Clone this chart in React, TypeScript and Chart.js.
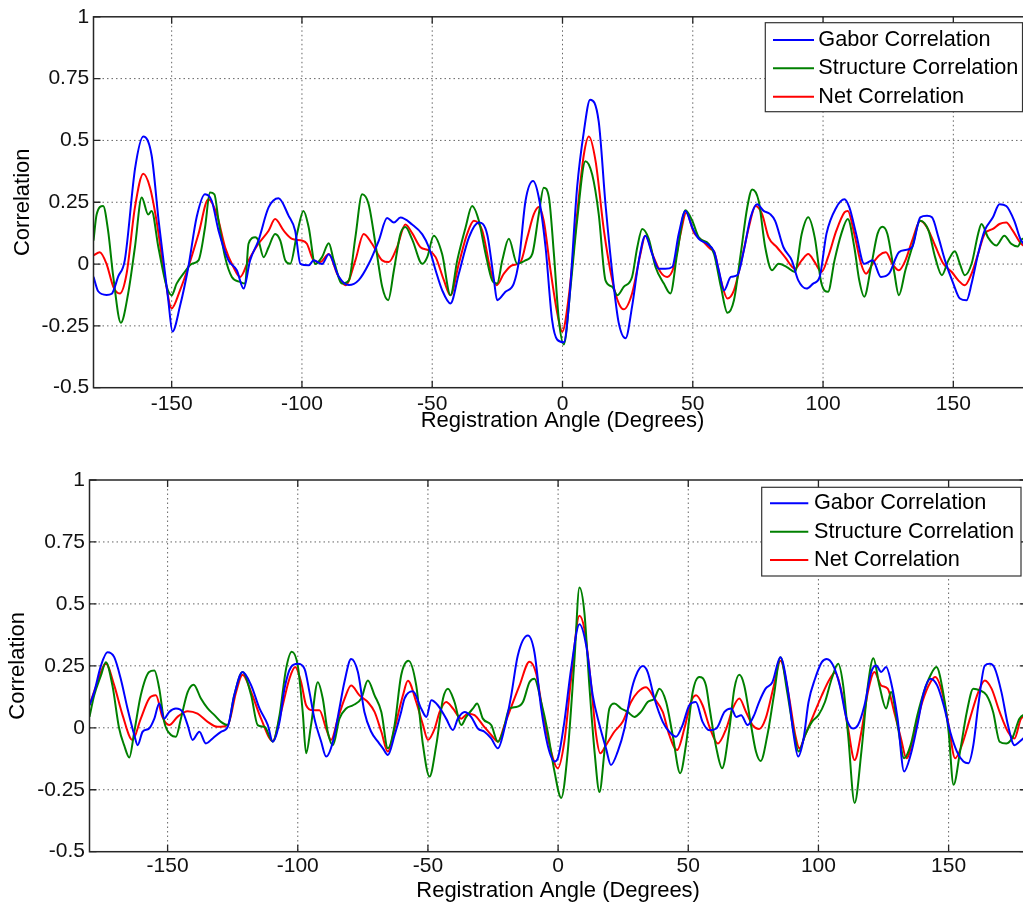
import React, { useEffect, useRef } from "react";
import { Chart, registerables } from "chart.js";

Chart.register(...registerables);

const FONT = '"Liberation Sans", Arial, Helvetica, sans-serif';

const xTickValues = [-150, -100, -50, 0, 50, 100, 150];
const yTickValues = [-0.5, -0.25, 0, 0.25, 0.5, 0.75, 1];
const seriesLabels = ["Gabor Correlation", "Structure Correlation", "Net Correlation"];
const seriesColors = ["#0000ff", "#008000", "#ff0000"];
const xAxisTitle = "Registration Angle (Degrees)";
const yAxisTitle = "Correlation";

// ---------- top panel ----------
const gaborTop: number[][] = [
  [-180, -0.052], [-178.2, -0.11], [-175, -0.125], [-173, -0.12], [-170.5, -0.05], [-168, 0.015], [-164, 0.39],
  [-160.9, 0.516], [-157.7, 0.44], [-155, 0.175], [-151.3, -0.146], [-149.7, -0.273], [-146.8, -0.17], [-143.6, -0.012],
  [-140.4, 0.19], [-137.2, 0.282], [-134.6, 0.255], [-132, 0.135], [-128.2, 0.015], [-125, -0.025], [-122.4, -0.099],
  [-119.9, 0.015], [-116.7, 0.095], [-112.8, 0.229], [-109, 0.266], [-105.1, 0.195], [-102.6, 0.135], [-100.6, 0.001],
  [-97.4, -0.005], [-95.5, 0.015], [-92.3, 0.0], [-89.7, 0.04], [-85.9, -0.05], [-82, -0.085], [-78.2, -0.065],
  [-74.4, 0.0], [-70.5, 0.095], [-67.3, 0.186], [-64.7, 0.168], [-62.2, 0.188], [-57.7, 0.16], [-53.8, 0.12],
  [-51.3, 0.068], [-48.7, -0.025], [-46.2, -0.105], [-43, -0.159], [-39.8, -0.039], [-35.9, 0.108], [-32.1, 0.168],
  [-28.9, 0.12], [-26.3, -0.065], [-25.1, -0.146], [-21.9, -0.112], [-18.7, -0.079], [-16.7, 0.015], [-14.2, 0.255],
  [-11.3, 0.336], [-9.1, 0.269], [-6.5, 0.068], [-4, -0.226], [-2, -0.306], [0.5, -0.316], [2.4, -0.172], [5.6, 0.309],
  [8.2, 0.536], [10.6, 0.665], [13.9, 0.576], [16.5, 0.242], [19.7, -0.092], [21.6, -0.239], [24.2, -0.3], [26.7, -0.172],
  [29.3, 0.015], [31.8, 0.115], [34.4, 0.041], [37, -0.019], [39.5, -0.019], [42.1, -0.012], [44.6, 0.122], [47.2, 0.215],
  [49.8, 0.148], [52.3, 0.102], [55.5, 0.082], [58.2, 0.05], [60.1, -0.03], [62, -0.106], [64.6, -0.052], [67.1, -0.045],
  [69.6, 0.055], [72.2, 0.189], [74.7, 0.242], [77.2, 0.215], [79.7, 0.202], [81.6, 0.175], [84.8, 0.068], [88, 0.015],
  [90.5, -0.066], [93.7, -0.099], [96.2, -0.079], [98.7, -0.052], [101.3, 0.122], [105.1, 0.229], [108.2, 0.262],
  [110.1, 0.229], [112.7, 0.122], [115.8, 0.001], [119, 0.015], [122.2, -0.052], [125.3, -0.039], [129.1, 0.048],
  [131.6, 0.057], [134.2, 0.068], [137.3, 0.189], [139.9, 0.195], [141.8, 0.189], [144.3, 0.108], [146.8, 0.015],
  [150, -0.079], [152.5, -0.139], [155.1, -0.146], [157, -0.079], [159.5, 0.041], [162, 0.135], [165.2, 0.189],
  [167.7, 0.242], [170.3, 0.235], [173.4, 0.175], [176, 0.095], [180, 0.06],
];

const structureTop: number[][] = [
  [-180, 0.095], [-178.8, 0.2], [-176.3, 0.235], [-174.4, 0.135], [-172.4, -0.052], [-169.5, -0.237], [-166.7, -0.119],
  [-164.1, 0.068], [-161.5, 0.269], [-159, 0.2], [-157.7, 0.215], [-155.1, 0.068], [-151.9, -0.092], [-150, -0.126],
  [-148.1, -0.079], [-145.5, -0.039], [-142.3, 0.001], [-139.7, 0.015], [-137.2, 0.148], [-135.3, 0.289], [-133.6, 0.282],
  [-132, 0.175], [-129.5, 0.028], [-126.9, -0.052], [-123.7, -0.072], [-121.8, -0.079], [-120.5, 0.082], [-117.9, 0.108],
  [-116.7, 0.095], [-114.7, 0.028], [-112.8, 0.068], [-110.3, 0.122], [-108.3, 0.095], [-106.4, 0.015], [-104.5, 0.001],
  [-101.9, 0.122], [-99.4, 0.215], [-97.4, 0.148], [-94.9, 0.0], [-92.3, 0.028], [-89.7, 0.084], [-87.8, 0.015],
  [-84.6, -0.079], [-82, -0.066], [-79.5, 0.108], [-76.9, 0.282], [-74.4, 0.242], [-71.8, 0.082], [-69.2, -0.092],
  [-66.9, -0.146], [-64.7, -0.025], [-62.2, 0.122], [-60.3, 0.15], [-57.7, 0.1], [-53.8, 0.001], [-51.9, 0.028],
  [-49.4, 0.115], [-46.2, 0.041], [-43, -0.126], [-40.4, 0.015], [-37.2, 0.148], [-34.7, 0.235], [-32.1, 0.175],
  [-29.5, 0.041], [-27, -0.066], [-25.1, -0.079], [-23.1, 0.015], [-20.6, 0.102], [-17.4, 0.001], [-14.2, 0.015],
  [-11.6, 0.041], [-9.1, 0.202], [-7.2, 0.309], [-5.2, 0.269], [-3.3, 0.041], [-1.4, -0.226], [0.5, -0.325],
  [3.1, -0.092], [5.6, 0.175], [8.8, 0.416], [11.4, 0.362], [13.9, 0.202], [16.5, -0.066], [19.1, -0.092], [21, -0.126],
  [23.5, -0.092], [26.7, -0.052], [28.7, 0.068], [30.6, 0.142], [33.1, 0.102], [35.7, -0.012], [38.9, -0.079],
  [41.4, -0.119], [44, 0.041], [47.2, 0.218], [49.8, 0.175], [52.3, 0.108], [56.1, 0.082], [58.2, 0.04], [60.8, -0.092],
  [63.3, -0.197], [65.8, -0.146], [68.4, 0.041], [70.9, 0.229], [72.8, 0.302], [75.3, 0.255], [77.8, 0.068],
  [80.4, -0.025], [82.9, 0.001], [86.1, -0.012], [89.2, -0.032], [91.8, 0.122], [94.3, 0.189], [96.8, 0.108],
  [99.4, -0.079], [101.9, -0.112], [104.4, 0.015], [107, 0.122], [109.5, 0.182], [112, 0.068], [113.9, -0.066],
  [115.8, -0.132], [118.4, -0.012], [120.9, 0.122], [122.8, 0.151], [124.7, 0.122], [127.2, -0.025], [129.1, -0.126],
  [131.6, -0.025], [134.2, 0.068], [137.3, 0.175], [140.5, 0.135], [143, 0.028], [145.6, -0.045], [148.1, 0.015],
  [150.6, 0.052], [152.5, 0.001], [154.4, -0.045], [157, 0.001], [159.5, 0.122], [160.8, 0.162], [163.3, 0.108],
  [166.5, 0.075], [169.6, 0.115], [172.2, 0.082], [174.7, 0.071], [176.6, 0.102], [180, 0.07],
];

const netTop: number[][] = [
  [-180, 0.035], [-177.6, 0.048], [-175, 0.001], [-172.4, -0.092], [-169.9, -0.119], [-167.3, -0.039], [-164.1, 0.229],
  [-160.9, 0.365], [-158.3, 0.309], [-155.8, 0.175], [-152.6, -0.052], [-150, -0.179], [-146.8, -0.106], [-143.6, -0.012],
  [-139.7, 0.122], [-135.9, 0.262], [-132.7, 0.202], [-129.5, 0.068], [-126.3, -0.012], [-123.7, -0.052], [-120.5, 0.015],
  [-116.7, 0.082], [-112.8, 0.135], [-110.3, 0.182], [-107, 0.135], [-103.8, 0.102], [-100, 0.095], [-98.1, 0.082],
  [-95.5, 0.015], [-93, 0.008], [-89.7, 0.041], [-86.5, -0.039], [-83.3, -0.086], [-79.5, 0.015], [-76.3, 0.122],
  [-73.1, 0.082], [-69.2, 0.015], [-66.7, 0.008], [-63.5, 0.068], [-60.3, 0.16], [-57.7, 0.125], [-54.5, 0.068],
  [-51.3, 0.055], [-48.7, 0.028], [-45.5, -0.066], [-43, -0.126], [-39.8, 0.001], [-36.6, 0.122], [-34, 0.175],
  [-30.8, 0.135], [-27.6, -0.025], [-25.3, -0.086], [-22.5, -0.039], [-19.3, -0.005], [-16.1, 0.008], [-13.5, 0.108],
  [-11, 0.202], [-9.1, 0.231], [-7.2, 0.175], [-4.6, -0.025], [-2, -0.199], [-0.1, -0.273], [2.4, -0.132], [5.6, 0.202],
  [8.2, 0.443], [10.1, 0.516], [12.7, 0.416], [15.9, 0.135], [19.1, -0.066], [21.6, -0.159], [23.5, -0.183],
  [26.7, -0.119], [29.9, 0.041], [31.8, 0.115], [35, 0.028], [37.6, -0.032], [40.2, -0.052], [42.7, -0.012],
  [45.3, 0.122], [47.5, 0.209], [50.4, 0.128], [53.6, 0.095], [56.8, 0.061], [58.2, 0.05], [60.8, -0.066],
  [63.3, -0.139], [65.8, -0.106], [68.4, 0.001], [71.5, 0.148], [74.1, 0.235], [76.6, 0.202], [79.1, 0.108],
  [82.3, 0.068], [85.4, 0.028], [89.2, -0.019], [91.8, 0.015], [94.3, 0.041], [96.8, 0.008], [99.4, -0.032],
  [101.9, 0.028], [105.1, 0.135], [108.2, 0.209], [109.5, 0.215], [112, 0.122], [114.6, 0.001], [116.5, -0.039],
  [119, 0.001], [121.5, 0.035], [124.1, 0.048], [126.6, 0.001], [129.1, -0.025], [131.6, 0.015], [134.2, 0.095],
  [137.3, 0.175], [139.9, 0.148], [143, 0.075], [146.2, 0.001], [149.4, -0.032], [151.9, -0.066], [154.4, -0.086],
  [157, -0.039], [159.5, 0.041], [162, 0.122], [165.2, 0.142], [167.7, 0.162], [170.3, 0.168], [172.8, 0.135],
  [176, 0.082], [180, 0.06],
];

// ---------- bottom panel ----------
const gaborBottom: number[][] = [
  [-180, 0.091], [-178.2, 0.144], [-175.6, 0.251], [-173.1, 0.305], [-170.5, 0.285], [-168, 0.198], [-165.4, 0.078],
  [-162.8, -0.029], [-161.5, -0.07], [-159.6, -0.016], [-157.1, -0.003], [-155.1, 0.037], [-153.2, 0.098],
  [-151.3, 0.037], [-149.4, 0.064], [-146.8, 0.078], [-144.2, 0.064], [-142.3, 0.011], [-140.4, -0.049],
  [-137.8, -0.016], [-135.3, -0.063], [-132.7, -0.043], [-129.5, -0.016], [-126.9, 0.004], [-124.4, 0.131],
  [-121.2, 0.225], [-117.9, 0.171], [-114.7, 0.078], [-111.5, 0.011], [-109.6, -0.056], [-107, 0.024], [-105.1, 0.158],
  [-102.6, 0.245], [-100, 0.258], [-97.4, 0.238], [-95.5, 0.144], [-93.6, 0.037], [-91, -0.056], [-89.1, -0.116],
  [-86.5, -0.056], [-84, 0.078], [-82.1, 0.184], [-79.5, 0.278], [-76.9, 0.225], [-74.4, 0.064], [-71.8, -0.016],
  [-69.2, -0.056], [-67.3, -0.083], [-65.4, -0.11], [-62.8, -0.029], [-60.3, 0.064], [-59, 0.118], [-55.8, 0.147],
  [-52.6, 0.078], [-50.6, 0.044], [-48.7, 0.111], [-46.2, 0.091], [-43, 0.037], [-40.4, -0.009], [-38.5, 0.037],
  [-35.9, 0.064], [-33.4, 0.044], [-30.8, -0.003], [-28.3, -0.016], [-25.7, -0.043], [-23.1, -0.083], [-20.6, -0.003],
  [-18, 0.131], [-15.5, 0.291], [-11.6, 0.372], [-9.1, 0.305], [-6.5, 0.078], [-4, -0.07], [-1.4, -0.136],
  [-0.1, -0.123], [2.4, 0.024], [5, 0.238], [8.2, 0.418], [10.8, 0.332], [13.3, 0.131], [15.9, 0.011], [18.4, -0.083],
  [20.3, -0.15], [22.9, -0.096], [25.5, -0.003], [28, 0.144], [29.9, 0.211], [32.5, 0.249], [34.4, 0.225], [37, 0.118],
  [40.2, 0.024], [42.7, -0.016], [45.3, -0.036], [47.8, 0.011], [50.4, 0.091], [52.9, 0.104], [55.5, 0.024],
  [58.1, -0.01], [60.8, -0.003], [63.9, 0.064], [66.5, 0.078], [68.4, 0.044], [70.3, 0.051], [72.8, 0.011],
  [75.3, 0.051], [77.2, 0.104], [79.7, 0.158], [82.3, 0.184], [85.4, 0.285], [88, 0.171], [90.5, -0.029],
  [92.2, -0.116], [94.3, -0.043], [96.2, 0.104], [98.7, 0.198], [101.3, 0.265], [103.2, 0.278], [105.7, 0.251],
  [108.2, 0.171], [110.8, 0.037], [113.3, -0.003], [115.2, 0.011], [117.7, 0.091], [120.3, 0.225], [122.2, 0.251],
  [124.1, 0.225], [126, 0.245], [127.9, 0.184], [130.4, 0.037], [132.9, -0.176], [135.4, -0.11], [138, 0.011],
  [140.5, 0.144], [143, 0.198], [145.6, 0.171], [148.1, 0.091], [150.6, -0.016], [153.2, -0.096], [155.7, -0.136],
  [157.6, -0.143], [159.5, -0.07], [161.4, 0.091], [163.9, 0.251], [165.8, 0.258], [167.7, 0.241], [170.3, 0.144],
  [172.8, 0.011], [175.3, -0.07], [177.2, -0.056], [180, -0.03],
];

const structureBottom: number[][] = [
  [-180, 0.044], [-178.2, 0.131], [-175.6, 0.211], [-173.7, 0.265], [-171.2, 0.171], [-168.6, -0.003], [-166.7, -0.07],
  [-164.7, -0.12], [-162.8, -0.016], [-160.3, 0.131], [-157.1, 0.225], [-155.1, 0.231], [-153.2, 0.158],
  [-151.3, 0.024], [-148.7, -0.029], [-146.8, -0.036], [-144.9, 0.037], [-142.3, 0.144], [-140, 0.174],
  [-137.2, 0.118], [-134.6, 0.078], [-132, 0.051], [-129.5, 0.024], [-126.9, 0.011], [-124.4, 0.131], [-121.2, 0.225],
  [-117.9, 0.131], [-115.4, 0.011], [-112.8, 0.004], [-109.6, -0.056], [-107, 0.051], [-104.5, 0.238], [-102.3, 0.307],
  [-100, 0.251], [-98.1, 0.064], [-96.8, -0.103], [-94.9, 0.011], [-92.3, 0.184], [-90.4, 0.118], [-88.5, -0.016],
  [-86.5, -0.07], [-84, 0.037], [-81.4, 0.078], [-78.8, 0.091], [-75.6, 0.118], [-73.1, 0.191], [-70.5, 0.131],
  [-67.9, 0.064], [-65.4, -0.083], [-62.8, 0.011], [-60.3, 0.211], [-57.5, 0.271], [-54.5, 0.171], [-51.9, -0.07],
  [-49.4, -0.197], [-46.8, -0.07], [-44.2, 0.118], [-42.3, 0.158], [-39.8, 0.104], [-37.2, 0.011], [-35.3, 0.044],
  [-32.7, 0.078], [-31.1, 0.098], [-28.9, 0.037], [-25.7, 0.011], [-23.1, -0.056], [-21.2, -0.016], [-18.7, 0.078],
  [-16.1, 0.084], [-13.5, 0.104], [-11, 0.184], [-9.1, 0.198], [-6.5, 0.104], [-4, -0.016], [-1.4, -0.176],
  [1.2, -0.283], [3.7, -0.096], [6.3, 0.278], [8.2, 0.566], [10.1, 0.465], [12, 0.171], [14, -0.096], [15.9, -0.259],
  [17.8, -0.096], [19.7, 0.078], [21.6, 0.098], [24.2, 0.078], [26.7, 0.064], [29.3, 0.044], [31.8, 0.064],
  [34.4, 0.104], [37, 0.118], [38.9, 0.158], [41.5, 0.104], [44, -0.029], [46.9, -0.183], [49.1, -0.07], [51.7, 0.144],
  [54.2, 0.205], [56.8, 0.171], [58.2, 0.078], [60.8, -0.083], [63, -0.163], [65.8, -0.003], [67.7, 0.158],
  [69.6, 0.214], [71.5, 0.171], [74.1, 0.011], [76, -0.096], [77.8, -0.134], [80.4, -0.029], [82.9, 0.131],
  [85.4, 0.285], [88, 0.144], [90.5, -0.016], [92.4, -0.096], [94.9, -0.029], [97.5, 0.024], [100, 0.051],
  [102.5, 0.104], [105.1, 0.198], [107.6, 0.258], [109.5, 0.171], [111.4, -0.029], [113.9, -0.303], [116.5, -0.096],
  [119, 0.171], [121.1, 0.281], [123.4, 0.171], [126, 0.078], [127.9, 0.144], [130.4, 0.011], [132.9, -0.123],
  [135.4, -0.07], [138, 0.051], [140.5, 0.144], [143, 0.211], [145.3, 0.245], [148.1, 0.131], [150, -0.016],
  [151.9, -0.23], [154.4, -0.096], [157, 0.064], [159.5, 0.158], [162, 0.151], [164.6, 0.131], [167.1, 0.064],
  [169.6, -0.056], [172.2, -0.063], [174.7, -0.036], [177.2, 0.037], [180, 0.06],
];

const netBottom: number[][] = [
  [-180, 0.091], [-177.6, 0.164], [-173.7, 0.258], [-170.5, 0.171], [-167.3, 0.051], [-163.5, -0.049], [-160.3, 0.037],
  [-157.1, 0.118], [-154.5, 0.131], [-152, 0.044], [-149.4, 0.011], [-146.2, 0.044], [-142.3, 0.067], [-138.5, 0.057],
  [-134.6, 0.024], [-130.8, 0.004], [-126.9, 0.011], [-123.7, 0.144], [-121.2, 0.214], [-117.9, 0.144], [-114.1, 0.037],
  [-109.6, -0.053], [-106.4, 0.064], [-103.2, 0.198], [-101, 0.245], [-98.7, 0.184], [-96.8, 0.091], [-94.2, 0.071],
  [-91.7, 0.071], [-89.1, -0.003], [-87.2, -0.049], [-84.6, 0.037], [-82, 0.118], [-79.5, 0.171], [-76.3, 0.131],
  [-73.1, 0.104], [-70.5, 0.064], [-67.9, -0.016], [-65.4, -0.096], [-62.8, -0.003], [-59.6, 0.131], [-57.7, 0.19],
  [-54.5, 0.104], [-51.9, 0.011], [-50, -0.049], [-47.4, -0.003], [-45.5, 0.064], [-43, 0.104], [-40.4, 0.078],
  [-37.2, 0.037], [-34.7, 0.057], [-32.1, 0.051], [-28.9, 0.011], [-25.7, -0.029], [-23.1, -0.056], [-20.6, 0.011],
  [-18, 0.084], [-14.8, 0.171], [-11, 0.267], [-8.4, 0.218], [-5.9, 0.064], [-3.3, -0.07], [-0.1, -0.163],
  [2.4, -0.056], [5, 0.198], [8.2, 0.452], [10.1, 0.398], [12.7, 0.171], [14.6, -0.029], [16.2, -0.103], [18.4, -0.07],
  [21.6, -0.016], [24.8, 0.024], [28, 0.104], [30.6, 0.144], [33.8, 0.164], [37, 0.118], [40.2, 0.064], [42.7, -0.029],
  [45.7, -0.09], [48.5, -0.003], [51, 0.104], [53, 0.131], [55.5, 0.091], [58.1, 0.005], [61.4, -0.063], [64.6, -0.003],
  [67.1, 0.078], [69.6, 0.118], [72.2, 0.064], [74.7, 0.011], [77.2, -0.005], [79.7, 0.037], [82.9, 0.171],
  [85.4, 0.271], [88.6, 0.131], [91.1, -0.029], [92.7, -0.083], [94.9, -0.029], [98.1, 0.051], [101.3, 0.131],
  [104.4, 0.198], [106.3, 0.222], [108.9, 0.144], [111.4, -0.003], [113.9, -0.13], [116.5, -0.016], [119, 0.144],
  [121.5, 0.225], [124.1, 0.171], [126.6, 0.158], [129.1, 0.064], [131.7, -0.043], [133.8, -0.123], [136.7, -0.029],
  [139.9, 0.104], [143, 0.184], [144.9, 0.205], [147.5, 0.144], [150, 0.011], [152.5, -0.123], [155.1, -0.07],
  [158.2, 0.037], [161.4, 0.144], [163.9, 0.191], [166.5, 0.158], [169.6, 0.064], [172.8, -0.016], [175.3, -0.043],
  [177.8, 0.037], [180, 0.05],
];

type PanelSpec = {
  canvasTop: number;
  width: number;
  height: number;
  area: { left: number; top: number; right: number; bottom: number };
  yTickPad: number;
  xTickPad: number;
  yTitleX: number;
  xTitleY: number;
  legend: { x: number; y: number; w: number; h: number; lineX0: number; lineX1: number; textX: number; rows: number[] };
  series: number[][][];
};

const panels: PanelSpec[] = [
  {
    canvasTop: 0,
    width: 1045,
    height: 450,
    area: { left: 93.5, top: 15.5, right: 1031.5, bottom: 387.7 },
    yTickPad: 4.2,
    xTickPad: 4.2,
    yTitleX: 23.3,
    xTitleY: 421,
    legend: { x: 765.3, y: 22.7, w: 257.2, h: 89, lineX0: 773, lineX1: 814, textX: 818.3, rows: [40, 68.3, 96.7] },
    series: [gaborTop, structureTop, netTop],
  },
  {
    canvasTop: 460,
    width: 1045,
    height: 444,
    area: { left: 89.5, top: 20, right: 1026.7, bottom: 391.7 },
    yTickPad: 4.5,
    xTickPad: 2.4,
    yTitleX: 18.4,
    xTitleY: 431,
    legend: { x: 761.7, y: 27.3, w: 259.3, h: 88.7, lineX0: 770, lineX1: 808.3, textX: 814, rows: [43.3, 71.7, 100] },
    series: [gaborBottom, structureBottom, netBottom],
  },
];

function makeFramePlugin(spec: PanelSpec) {
  return {
    id: "matlabFrame",
    beforeDatasetsDraw(chart: any) {
      const { ctx, chartArea: a, scales } = chart;
      ctx.save();
      ctx.strokeStyle = "rgba(50,50,50,0.75)";
      ctx.lineWidth = 1;
      ctx.setLineDash([1.5, 3]);
      for (const v of xTickValues) {
        const px = scales.x.getPixelForValue(v);
        ctx.beginPath();
        ctx.moveTo(px, a.top);
        ctx.lineTo(px, a.bottom);
        ctx.stroke();
      }
      for (const v of yTickValues) {
        if (v === yTickValues[0] || v === yTickValues[yTickValues.length - 1]) continue;
        const py = scales.y.getPixelForValue(v);
        ctx.beginPath();
        ctx.moveTo(a.left, py);
        ctx.lineTo(a.right, py);
        ctx.stroke();
      }
      ctx.restore();
    },
    afterDatasetsDraw(chart: any) {
      const { ctx, chartArea: a, scales } = chart;
      ctx.save();
      ctx.setLineDash([]);
      ctx.strokeStyle = "#262626";
      ctx.lineWidth = 1.5;
      ctx.strokeRect(a.left, a.top, a.right - a.left, a.bottom - a.top);
      const tl = 7;
      ctx.lineWidth = 1.3;
      for (const v of xTickValues) {
        const px = scales.x.getPixelForValue(v);
        ctx.beginPath();
        ctx.moveTo(px, a.bottom);
        ctx.lineTo(px, a.bottom - tl);
        ctx.moveTo(px, a.top);
        ctx.lineTo(px, a.top + tl);
        ctx.stroke();
      }
      for (const v of yTickValues) {
        const py = scales.y.getPixelForValue(v);
        ctx.beginPath();
        ctx.moveTo(a.left, py);
        ctx.lineTo(a.left + tl, py);
        ctx.moveTo(a.right, py);
        ctx.lineTo(a.right - tl, py);
        ctx.stroke();
      }

      // legend
      const L = spec.legend;
      ctx.fillStyle = "#ffffff";
      ctx.fillRect(L.x, L.y, L.w, L.h);
      ctx.strokeStyle = "#333333";
      ctx.lineWidth = 1.2;
      ctx.strokeRect(L.x, L.y, L.w, L.h);
      ctx.font = `21.7px ${FONT}`;
      ctx.textBaseline = "middle";
      ctx.textAlign = "left";
      chart.data.datasets.forEach((ds: any, i: number) => {
        const ry = L.rows[i];
        ctx.strokeStyle = ds.borderColor;
        ctx.lineWidth = 2;
        ctx.beginPath();
        ctx.moveTo(L.lineX0, ry);
        ctx.lineTo(L.lineX1, ry);
        ctx.stroke();
        ctx.fillStyle = "#000000";
        ctx.fillText(ds.label, L.textX, ry);
      });

      // axis titles
      ctx.fillStyle = "#000000";
      ctx.font = `22px ${FONT}`;
      ctx.textAlign = "center";
      ctx.textBaseline = "middle";
      ctx.fillText(xAxisTitle, (a.left + a.right) / 2, spec.xTitleY);
      ctx.save();
      ctx.translate(spec.yTitleX, (a.top + a.bottom) / 2);
      ctx.rotate(-Math.PI / 2);
      ctx.fillText(yAxisTitle, 0, 0);
      ctx.restore();
      ctx.restore();
    },
  };
}

function Panel({ spec }: { spec: PanelSpec }) {
  const ref = useRef<HTMLCanvasElement | null>(null);
  useEffect(() => {
    const canvas = ref.current;
    if (!canvas) return;
    const a = spec.area;
    const chart = new Chart(canvas, {
      type: "line",
      data: {
        datasets: spec.series.map((pts, i) => ({
          label: seriesLabels[i],
          data: pts.map(([x, y]) => ({ x, y })),
          borderColor: seriesColors[i],
          backgroundColor: seriesColors[i],
          borderWidth: 2,
          pointRadius: 0,
          fill: false,
          cubicInterpolationMode: "monotone" as const,
        })),
      },
      options: {
        responsive: false,
        animation: false,
        devicePixelRatio: 1,
        layout: { padding: { left: 0, top: a.top, right: spec.width - a.right, bottom: 0 } },
        plugins: { legend: { display: false }, tooltip: { enabled: false } },
        scales: {
          x: {
            type: "linear",
            min: -180,
            max: 180,
            grid: { display: false, drawTicks: false },
            border: { display: false },
            ticks: {
              padding: spec.xTickPad,
              font: { family: FONT, size: 21 },
              color: "#111111",
              maxRotation: 0,
              autoSkip: false,
            },
            afterBuildTicks: (s: any) => {
              s.ticks = xTickValues.map((v) => ({ value: v }));
            },
            afterFit: (s: any) => {
              s.height = spec.height - a.bottom;
            },
          },
          y: {
            type: "linear",
            min: -0.5,
            max: 1,
            grid: { display: false, drawTicks: false },
            border: { display: false },
            ticks: {
              padding: spec.yTickPad,
              font: { family: FONT, size: 21 },
              color: "#111111",
              callback: (v: any) => String(v),
            },
            afterBuildTicks: (s: any) => {
              s.ticks = yTickValues.map((v) => ({ value: v }));
            },
            afterFit: (s: any) => {
              s.width = a.left;
            },
          },
        },
      },
      plugins: [makeFramePlugin(spec)],
    } as any);
    return () => chart.destroy();
  }, [spec]);
  return (
    <canvas
      ref={ref}
      width={spec.width}
      height={spec.height}
      style={{ position: "absolute", left: 0, top: spec.canvasTop, width: spec.width, height: spec.height }}
    />
  );
}

export default function App() {
  return (
    <div
      style={{
        position: "fixed",
        left: 0,
        top: 0,
        width: 1023,
        height: 904,
        overflow: "hidden",
        background: "#ffffff",
      }}
    >
      {panels.map((p, i) => (
        <Panel key={i} spec={p} />
      ))}
    </div>
  );
}
